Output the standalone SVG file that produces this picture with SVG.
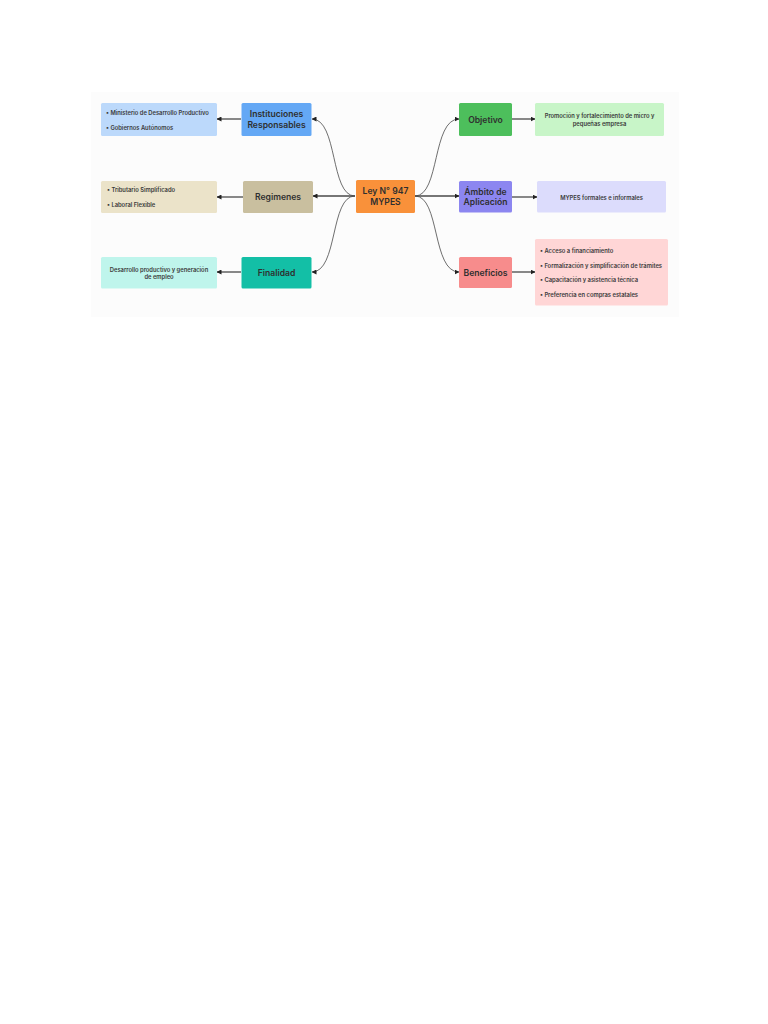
<svg xmlns="http://www.w3.org/2000/svg" width="768" height="1024" viewBox="0 0 768 1024">
<defs>
<style>
.n{font-family:Inter,"Liberation Sans",sans-serif;font-weight:600;font-size:8.6px;fill:#2f2f2f;text-anchor:middle;dominant-baseline:central}
.l{font-family:Inter,"Liberation Sans",sans-serif;font-weight:600;font-size:5.8px;fill:#3a3a3a;dominant-baseline:central}
.c{text-anchor:middle}
.cv{fill:none;stroke:#4a4a4a;stroke-width:0.8}
.st{fill:none;stroke:#4a4a4a;stroke-width:1.3}
</style>
<marker id="a" viewBox="0 0 10 10" refX="9" refY="5" markerWidth="5" markerHeight="5" markerUnits="userSpaceOnUse" orient="auto">
<path d="M0,0 L10,5 L0,10 Z" fill="#222"/>
</marker>
</defs>
<rect width="768" height="1024" fill="#ffffff"/>
<rect x="91" y="92" width="588" height="225" fill="#fcfcfc"/>
<g id="connectors">
<path class="cv" d="M355,196 C330,196 338,119 312,119" marker-end="url(#a)"/>
<path class="st" d="M355,196 L313,196" marker-end="url(#a)"/>
<path class="cv" d="M355,196 C330,196 338,272 312,272" marker-end="url(#a)"/>
<path class="cv" d="M415,196 C440,196 432,119 459,119" marker-end="url(#a)"/>
<path class="st" d="M415,196 L459,196" marker-end="url(#a)"/>
<path class="cv" d="M415,196 C440,196 432,272 459,272" marker-end="url(#a)"/>
<path class="st" d="M241,119 L217,119" marker-end="url(#a)"/>
<path class="st" d="M243,197 L217,197" marker-end="url(#a)"/>
<path class="st" d="M241,272 L217,272" marker-end="url(#a)"/>
<path class="st" d="M512,119 L535,119" marker-end="url(#a)"/>
<path class="st" d="M512,197 L537,197" marker-end="url(#a)"/>
<path class="st" d="M512,272 L535,272" marker-end="url(#a)"/>
</g>
<g id="center">
<rect x="356" y="180" width="59" height="33" rx="1.5" fill="#f9913a"/>
<text class="n" x="385.5" y="191.3">Ley N° 947</text>
<text class="n" x="385.5" y="202">MYPES</text>
</g>
<g id="instituciones">
<rect x="241.5" y="103" width="70" height="33" rx="1.5" fill="#64a8f5"/>
<text class="n" x="276.5" y="114.3">Instituciones</text>
<text class="n" x="276.5" y="124.5">Responsables</text>
</g>
<g id="instituciones-detalle">
<rect x="101" y="103" width="116" height="33" rx="1.5" fill="#bcd9fb"/>
<text class="l" x="106" y="112.7">• Ministerio de Desarrollo Productivo</text>
<text class="l" x="106" y="127">• Gobiernos Autónomos</text>
</g>
<g id="regimenes">
<rect x="243" y="181" width="70" height="32" rx="1.5" fill="#c9bf9f"/>
<text class="n" x="278" y="197">Regimenes</text>
</g>
<g id="regimenes-detalle">
<rect x="101" y="181" width="116" height="32" rx="1.5" fill="#ebe3c9"/>
<text class="l" x="107" y="189.3">•  Tributario Simplificado</text>
<text class="l" x="107" y="204.3">•  Laboral Flexible</text>
</g>
<g id="finalidad">
<rect x="241.5" y="257" width="70" height="31.5" rx="1.5" fill="#13bfa6"/>
<text class="n" x="276.5" y="272.5">Finalidad</text>
</g>
<g id="finalidad-detalle">
<rect x="101" y="257" width="116" height="31.5" rx="1.5" fill="#bff5ec"/>
<text class="l c" x="159" y="269">Desarrollo productivo y generación</text>
<text class="l c" x="159" y="276.7">de empleo</text>
</g>
<g id="objetivo">
<rect x="459" y="103" width="53" height="33" rx="1.5" fill="#4dbf5c"/>
<text class="n" x="485.5" y="119.5">Objetivo</text>
</g>
<g id="objetivo-detalle">
<rect x="535" y="103" width="129" height="33" rx="1.5" fill="#c8f5c8"/>
<text class="l c" x="599.5" y="115.7">Promoción y fortalecimiento de micro y</text>
<text class="l c" x="599.5" y="123.3">pequeñas empresa</text>
</g>
<g id="ambito">
<rect x="459" y="181" width="53" height="31.5" rx="1.5" fill="#8c86f0"/>
<text class="n" x="485.5" y="192">Ámbito de</text>
<text class="n" x="485.5" y="202.3">Aplicación</text>
</g>
<g id="ambito-detalle">
<rect x="537" y="181" width="129" height="31.5" rx="1.5" fill="#dcdcfc"/>
<text class="l c" x="601.5" y="197.3">MYPES formales e informales</text>
</g>
<g id="beneficios">
<rect x="459" y="257" width="53" height="31" rx="1.5" fill="#f78c8c"/>
<text class="n" x="485.5" y="272.5">Beneficios</text>
</g>
<g id="beneficios-detalle">
<rect x="535" y="239" width="133" height="66.5" rx="1.5" fill="#ffd6d6"/>
<text class="l" x="540" y="250">• Acceso a financiamiento</text>
<text class="l" x="540" y="265">• Formalización y simplificación de trámites</text>
<text class="l" x="540" y="279.7">• Capacitación y asistencia técnica</text>
<text class="l" x="540" y="294">• Preferencia en compras estatales</text>
</g>
</svg>
